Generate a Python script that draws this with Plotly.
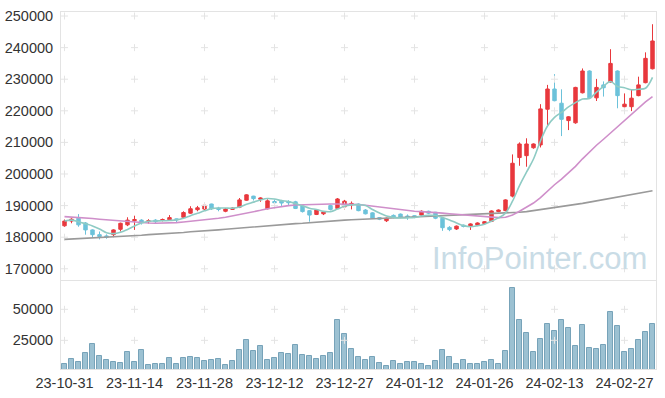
import pandas as pd
import plotly.graph_objects as go

# ---- data (prices in KRW, volume in shares) ----
holidays = ["2023-12-25", "2023-12-29", "2024-01-01", "2024-02-09", "2024-02-12", "2024-03-01"]
dates = [d.strftime("%Y-%m-%d") for d in pd.bdate_range("2023-10-31", "2024-03-05") if d.strftime("%Y-%m-%d") not in holidays]

open_ = [183600, 185100, 186000, 184500, 182300, 180800, 180400, 180800, 182500, 183900,
         185200, 185400, 184900, 185400, 185300, 185500, 185800, 186300, 187600, 188700,
         188900, 190500, 189200, 188200, 188800, 189500, 191700, 193000, 192000, 189000,
         191300, 191400, 191300, 191200, 189900, 188400, 187200, 187400, 190000, 189100,
         189600, 190200, 190500, 188600, 187700, 186200, 185200, 186900, 187300, 186700,
         186800, 187000, 188200, 187900, 186000, 183100, 182600, 183800, 183400, 183800,
         184300, 185000, 188100, 188400, 193000, 205200, 205800, 208300, 209200, 220500,
         226900, 222400, 216900, 216200, 225700, 232600, 224100, 228200, 229100, 232600,
         221300, 221300, 224800, 228900, 233300]
high = [185600, 186000, 187300, 184800, 182500, 181800, 180900, 182500, 184600, 186300,
        186800, 185700, 185700, 185700, 185900, 187000, 185900, 188200, 189800, 189900,
        190500, 190600, 189600, 189200, 189500, 192400, 193600, 193100, 192600, 192000,
        191900, 191800, 191700, 191500, 190100, 188600, 188800, 188300, 190300, 192400,
        191800, 191300, 190700, 188900, 187900, 186400, 186200, 187200, 187500, 187200,
        187000, 188500, 188400, 188000, 186200, 183500, 183700, 184000, 184400, 184700,
        185100, 188500, 188800, 192000, 206200, 210000, 211300, 209700, 222100, 228200,
        231600, 226800, 218300, 227600, 233400, 232800, 230100, 229300, 239500, 232800,
        225500, 226600, 230800, 238500, 247400]
low = [183300, 184400, 183300, 180800, 179800, 179300, 179500, 180000, 181800, 183500,
       182300, 184000, 184300, 184200, 185000, 185300, 184800, 186000, 187400, 188200,
       188600, 188600, 188200, 187900, 188600, 189200, 191500, 191600, 191200, 188800,
       190300, 189900, 190200, 188900, 187800, 184900, 187000, 187000, 188500, 188900,
       188800, 188800, 188200, 187200, 185800, 185400, 184800, 186000, 186000, 185500,
       186000, 186500, 187300, 185700, 182000, 181900, 182300, 183100, 182300, 183500,
       184000, 184800, 187900, 188200, 192600, 202600, 202300, 208000, 208400, 215500,
       223000, 212000, 213900, 215900, 225500, 223900, 223100, 224500, 228900, 220800,
       220800, 219900, 224600, 228700, 233100]
close = [185100, 185700, 183900, 182300, 180800, 180200, 180000, 182300, 184400, 185400,
         185600, 184600, 185200, 184900, 185600, 186200, 185500, 187800, 189000, 189300,
         190100, 189000, 188800, 188900, 189200, 191800, 193400, 192200, 192400, 191500,
         190900, 190800, 190900, 189100, 188100, 187000, 188600, 188000, 188800, 192100,
         191400, 190700, 188400, 187400, 186000, 185700, 186000, 186300, 186300, 186300,
         186300, 188200, 187600, 186000, 183000, 182400, 183500, 183400, 184200, 184500,
         184900, 188300, 188600, 191800, 203400, 209500, 209500, 209500, 220600, 226900,
         223200, 217300, 218100, 227400, 232600, 224100, 227400, 227300, 235000, 224800,
         222100, 224000, 228200, 236600, 242100]
volume = [5900, 9700, 7500, 14800, 22000, 12100, 9100, 7500, 6700, 15600,
          7500, 16900, 4800, 5900, 5900, 10500, 5900, 10500, 11300, 10500,
          8300, 9100, 9700, 5100, 8300, 16900, 25000, 16100, 20400, 8900,
          10500, 14800, 14000, 21000, 13200, 12100, 9700, 12100, 14800, 41100,
          29800, 17700, 11300, 8900, 11300, 6500, 4000, 8100, 5600, 7300,
          7300, 5600, 4000, 8100, 16900, 11300, 5600, 8900, 5600, 5600,
          7300, 8900, 5600, 16100, 67200, 41100, 30600, 15300, 25800, 37900,
          32300, 41100, 34700, 20200, 37100, 18500, 17700, 21000, 47600, 36300,
          15300, 17700, 25000, 31500, 37900]
ma20 = [186500, 186400, 186300, 186100, 185900, 185700, 185500, 185300, 185100, 184900,
        184700, 184600, 184500, 184400, 184400, 184500, 184600, 184800, 185000, 185200,
        185400, 185700, 186000, 186300, 186700, 187100, 187500, 188000, 188500, 189000,
        189400, 189700, 190000, 190200, 190300, 190400, 190400, 190500, 190500, 190500,
        190500, 190400, 190300, 190100, 189800, 189500, 189200, 188900, 188600, 188400,
        188200, 188100, 188000, 187800, 187600, 187400, 187200, 187000, 186800, 186600,
        186400, 186300, 186200, 186300, 187000, 188200, 189500, 190800, 192500, 194600,
        196600, 198400, 200300, 202400, 204800, 207000, 209100, 211000, 213000, 215000,
        216800, 218800, 220800, 222800, 224500]
ma60 = [179300, 179400, 179500, 179600, 179700, 179800, 179900, 180000, 180200, 180300,
        180500, 180600, 180800, 180900, 181100, 181200, 181400, 181500, 181700, 181800,
        182000, 182200, 182300, 182500, 182700, 182900, 183000, 183200, 183400, 183600,
        183700, 183900, 184100, 184300, 184400, 184600, 184800, 184900, 185100, 185200,
        185400, 185500, 185600, 185700, 185800, 185900, 186000, 186100, 186200, 186300,
        186400, 186500, 186600, 186700, 186700, 186800, 186900, 186900, 187000, 187100,
        187200, 187300, 187400, 187500, 187600, 187900, 188100, 188400, 188700, 189000,
        189400, 189700, 190000, 190400, 190700, 191100, 191500, 192000, 192400, 192800,
        193200, 193600, 194000, 194300, 194700]
price_ticks = [170000, 180000, 190000, 200000, 210000, 220000, 230000, 240000, 250000]
volume_ticks = [25000, 50000]
label_dates = dates[::10]
label_text = [pd.Timestamp(d).strftime("%y-%m-%d") for d in label_dates]

ma5 = pd.Series(close).rolling(5, min_periods=1).mean().tolist()

RED = "#e8383d"
TEAL = "#6cc2da"
FONT = "Liberation Sans"

fig = go.Figure()

# candles and lines first so that the category order follows the dates
fig.add_trace(go.Candlestick(
    x=dates, open=open_, high=high, low=low, close=close,
    increasing=dict(line=dict(color=RED, width=1), fillcolor=RED),
    decreasing=dict(line=dict(color=TEAL, width=1), fillcolor=TEAL),
    whiskerwidth=0, showlegend=False, xaxis="x", yaxis="y"))
fig.add_trace(go.Scatter(x=dates, y=ma60, mode="lines", line=dict(color="#9a9a9a", width=1.6),
                         showlegend=False, xaxis="x", yaxis="y"))
fig.add_trace(go.Scatter(x=dates, y=ma20, mode="lines", line=dict(color="#cf8fca", width=1.6),
                         showlegend=False, xaxis="x", yaxis="y"))
fig.add_trace(go.Scatter(x=dates, y=ma5, mode="lines", line=dict(color="#8ecbc4", width=1.6, shape="spline"),
                         showlegend=False, xaxis="x", yaxis="y"))
fig.add_trace(go.Bar(x=dates, y=volume, width=0.82, xaxis="x2", yaxis="y2", showlegend=False,
                     marker=dict(color="#9cc1d2", line=dict(color="#77a3b9", width=1))))

# grid crosses
fig.add_trace(go.Scatter(
    x=[d for d in label_dates for _ in price_ticks],
    y=[v for _ in label_dates for v in price_ticks],
    mode="markers", xaxis="x", yaxis="y", hoverinfo="skip", showlegend=False,
    marker=dict(symbol="cross-thin", size=5, line=dict(color="#e4e4e4", width=1))))
fig.add_trace(go.Scatter(
    x=[d for d in label_dates for _ in volume_ticks],
    y=[v for _ in label_dates for v in volume_ticks],
    mode="markers", xaxis="x2", yaxis="y2", hoverinfo="skip", showlegend=False,
    marker=dict(symbol="cross-thin", size=5, line=dict(color="#e4e4e4", width=1))))
# draw crosses beneath the other marks
fig.data = fig.data[-2:] + fig.data[:-2]

n = len(dates)
xdom = [61 / 665, 656 / 665]
axis_common = dict(showgrid=False, zeroline=False, showline=True, linecolor="#e3e3e3",
                   linewidth=1, mirror=True, automargin=False)
xcat = dict(type="category", categoryorder="array", categoryarray=dates, range=[-0.5, n - 0.5])
fig.update_layout(
    width=665, height=398,
    margin=dict(l=0, r=0, t=0, b=0),
    paper_bgcolor="white", plot_bgcolor="white",
    font=dict(family=FONT, size=14.5, color="#333333"),
    bargap=0,
    xaxis=dict(domain=xdom, showticklabels=False,
               rangeslider=dict(visible=False), anchor="y", **xcat, **axis_common),
    yaxis=dict(domain=[1 - 280 / 398, 1 - 12 / 398], range=[166450, 251270],
               tickvals=price_ticks, ticktext=[str(v) for v in price_ticks],
               ticks="", ticklabelstandoff=4, anchor="x", **axis_common),
    xaxis2=dict(domain=xdom, tickvals=label_dates, ticktext=label_text, ticks="",
                tickangle=0, ticklabelstandoff=1, anchor="y2", **xcat, **axis_common),
    yaxis2=dict(domain=[1 - 369 / 398, 1 - 281 / 398], range=[1900, 72800],
                tickvals=volume_ticks, ticktext=[str(v) for v in volume_ticks],
                ticks="", ticklabelstandoff=4, anchor="x2", **axis_common),
    annotations=[dict(text="InfoPointer.com", xref="paper", yref="paper",
                      x=649 / 665, y=1 - 258 / 398, xanchor="right", yanchor="middle",
                      showarrow=False, font=dict(family=FONT, size=31, color="#c9dce6"))],
)

fig.write_html("out.html", config={"displayModeBar": False},
               post_script="document.body.style.margin='0px';")
